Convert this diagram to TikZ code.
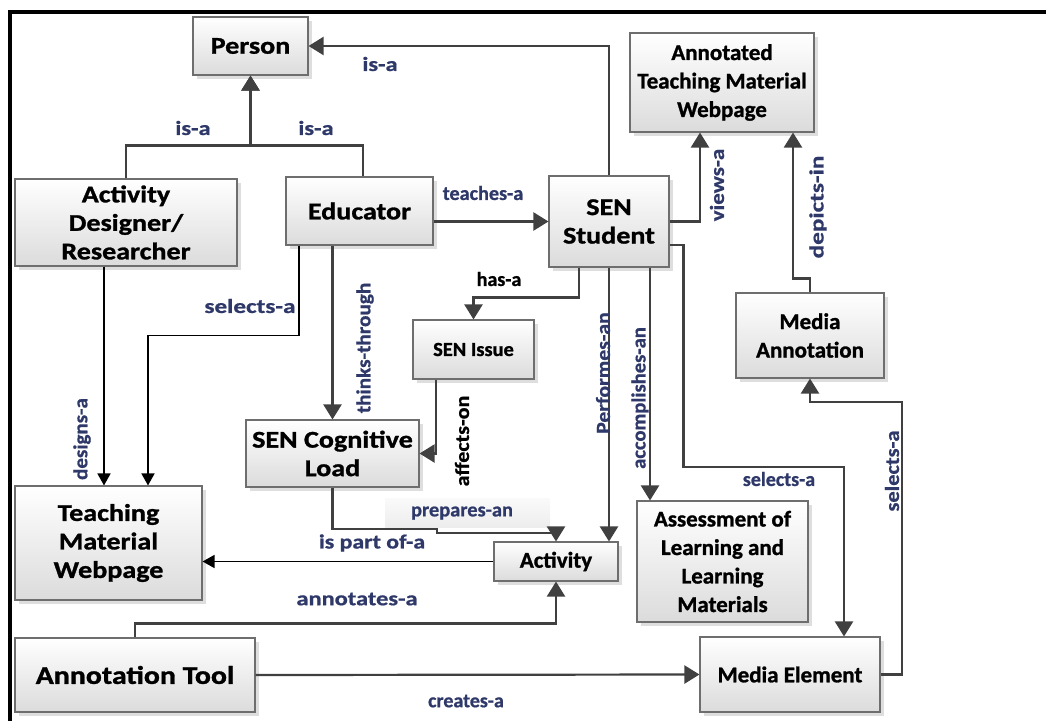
\documentclass[tikz,border=0pt]{standalone}
\usepackage{fontspec}
\setmainfont{Carlito}
\newfontfamily\wideF{Carlito}[FakeStretch=1.17,FakeBold=1.2]
\newfontfamily\normF{Carlito}[FakeStretch=1.02,FakeBold=1.2]
\newfontfamily\labF{Carlito}[FakeBold=0.8]
\newcommand{\hstr}[2]{\scalebox{#1}[1]{#2}}
\usetikzlibrary{arrows.meta,shadows,calc}
\definecolor{navy}{RGB}{47,57,105}
\definecolor{edgec}{RGB}{64,64,64}
\definecolor{boxline}{RGB}{110,110,110}
\begin{document}
\begin{tikzpicture}[x=1pt,y=-1pt,
  box/.style={draw=boxline,line width=1.1pt,top color=white,bottom color=black!14,
    align=center,inner sep=1pt,
    drop shadow={shadow xshift=4pt,shadow yshift=-4pt,fill=black!13,opacity=1}},
  wbox/.style={box,font=\wideF\fontsize{24}{28.5}\selectfont\bfseries},
  nbox/.style={box,font=\normF\fontsize{22.5}{28.5}\selectfont\bfseries},
  lab/.style={text=navy,font=\labF\fontsize{20}{22}\selectfont\bfseries,inner sep=0pt},
  blab/.style={lab,text=black},
  conn/.style={draw=edgec,line width=2.2pt,-{Triangle[width=18pt,length=15pt]}},
  thinc/.style={draw=black,line width=1.6pt,-{Triangle[width=13pt,length=12pt]}}]
\useasboundingbox (0,0) rectangle (1046,720);
% frame
\draw[line width=4pt] (10,722) -- (10,12) -- (1048,12);
% nodes
\node[wbox,minimum width=115pt,minimum height=58pt] (person) at (250.5,46) {Person};
\node[wbox,minimum width=222pt,minimum height=87pt] (adr) at (126,222.5) {Activity\\Designer/\\Researcher};
\node[wbox,minimum width=147pt,minimum height=68pt] (edu) at (359.5,211) {Educator};
\node[wbox,minimum width=120pt,minimum height=91pt] (stu) at (609,221.5) {SEN\\Student};
\node[nbox,minimum width=184pt,minimum height=99pt] (atm) at (722,82.5) {Annotated\\Teaching Material\\Webpage};
\node[nbox,minimum width=148pt,minimum height=85pt] (ma) at (810,335.5) {Media\\Annotation};
\node[nbox,minimum width=121pt,minimum height=59pt,font=\normF\fontsize{20}{24}\selectfont\bfseries] (issue) at (473.5,349.5) {SEN Issue};
\node[wbox,minimum width=173pt,minimum height=67pt] (cog) at (332.5,453.5) {SEN Cognitive\\Load};
\node[wbox,minimum width=187pt,minimum height=114pt] (tmw) at (108.5,543) {Teaching\\Material\\Webpage};
\node[nbox,minimum width=124pt,minimum height=39pt] (act) at (556,561.5) {Activity};
\node[nbox,minimum width=171pt,minimum height=121pt] (assess) at (722.5,561.5) {Assessment of\\Learning and\\Learning\\Materials};
\node[wbox,minimum width=240pt,minimum height=74pt,font=\wideF\fontsize{25.5}{28}\selectfont\bfseries] (tool) at (135,675) {Annotation Tool};
\node[nbox,minimum width=180pt,minimum height=75pt] (media) at (790,674.5) {Media Element};
% prepares-an label background
\fill[top color=black!2,bottom color=black!7] (385,498) rectangle (550,527);
% connectors
\draw[conn] (stu.north) |- (person.east);
\draw[conn] (adr.north) -- ++(0,-33) -| (person.south);
\draw[conn] ($(edu.north)+(3.5,0)$) -- ++(0,-31) -| (person.south);
\draw[conn] (edu.east |- stu.west) -- (stu.west);
\draw[conn] (stu.east) -| ($(atm.south)+(-22,0)$);
\draw[conn] (ma.north) -- ++(0,-14) -| ($(atm.south)+(71,0)$);
\draw[conn] ($(stu.south)+(-30,0)$) -- ++(0,30) -| (issue.north);
\draw[conn] (stu.south) -- (stu.south |- act.north);
\coordinate (s3) at ($(stu.south)+(41,0)$);
\draw[conn] (s3) -- (s3 |- assess.north);
\coordinate (s4) at ($(stu.east)+(0,23.5)$);
\coordinate (m4) at ($(media.north)+(54,0)$);
\draw[conn] (s4) -- ++(14,0) -- ++(0,222) -| (m4);
\draw[conn] (media.east) -| (902,402) -| (ma.south);
\draw[conn] (cog.north |- edu.south) -- (cog.north);
\coordinate (e2) at ($(edu.south)+(-60.5,0)$);
\draw[thinc] (e2) -- ++(0,90) -| ($(tmw.north)+(39.5,0)$);
\coordinate (a2) at ($(adr.south)+(-22,0)$);
\draw[thinc] (a2) -- (a2 |- tmw.north);
\coordinate (i2) at ($(issue.south)+(-37.5,0)$);
\draw[conn] (i2) |- (cog.east);
\draw[conn] (cog.south) |- (437,529) -- (437,533) -| (act.north);
\draw[thinc] (act.west) -- (act.west -| tmw.east);
\draw[conn] (tool.north) -- ++(0,-14) -| (act.south);
\draw[conn] (tool.east) -- (media.west);
% labels
\node[lab] (l1) at (380,64) {\hstr{1.22}{is-a}};
\node[lab] (l2) at (193,128) {\hstr{1.22}{is-a}};
\node[lab] (l3) at (316,128) {\hstr{1.22}{is-a}};
\node[lab] (l4) at (483,193) {\hstr{1.01}{teaches-a}};
\node[lab,rotate=90] (l5) at (717,185) {\hstr{1.15}{views-a}};
\node[lab,rotate=90] (l6) at (818,207) {\hstr{1.26}{depicts-in}};
\node[blab] (l7) at (499,279) {\hstr{1.0}{has-a}};
\node[lab,rotate=90] (l8) at (603,373) {\hstr{1.08}{Performes-an}};
\node[lab,rotate=90] (l9) at (640,398) {\hstr{1.03}{accomplishes-an}};
\node[lab] (l10) at (779,479) {\hstr{1.0}{selects-a}};
\node[lab,rotate=90] (l11) at (892,471) {\hstr{1.12}{selects-a}};
\node[lab,rotate=90] (l12) at (365,348) {\hstr{1.06}{thinks-through}};
\node[lab] (l13) at (250,306) {\hstr{1.26}{selects-a}};
\node[lab,rotate=90] (l14) at (82,439) {\hstr{1.05}{designs-a}};
\node[blab,rotate=90] (l15) at (462,441) {\hstr{1.1}{affects-on}};
\node[lab] (l16) at (462,513) {\hstr{1.02}{prepares-an}};
\node[lab] (l17) at (372,543) {\hstr{1.19}{is part of-a}};
\node[lab] (l18) at (357,599) {\hstr{1.22}{annotates-a}};
\node[lab] (l19) at (466,701) {\hstr{1.0}{creates-a}};
\end{tikzpicture}
\end{document}
